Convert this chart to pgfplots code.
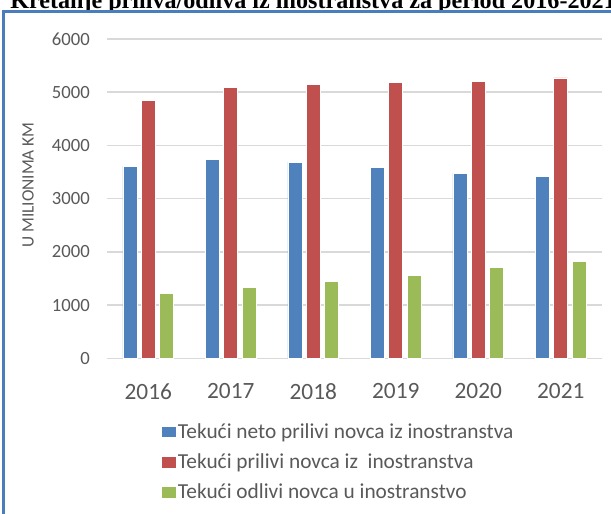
\documentclass[border=0pt]{standalone}
\usepackage{pgfplots}
\pgfplotsset{compat=1.18}
\usepackage{pgfplotstable}
\usepackage{fontspec}
\setmainfont{Carlito}
\newfontfamily\titlefont{Liberation Serif}
\definecolor{cblue}{HTML}{4F81BD}
\definecolor{cred}{HTML}{C0504D}
\definecolor{cgreen}{HTML}{9BBB59}
\definecolor{cgrid}{HTML}{D9D9D9}
\definecolor{ctext}{HTML}{595959}
\definecolor{cframe}{HTML}{4A7EBB}
\pgfplotstableread{
x a b c
0 3608 4846 1212
1 3739 5090 1325
2 3683 5146 1445
3 3589 5178 1563
4 3471 5203 1713
5 3415 5265 1826
}\data
\begin{document}
\begin{tikzpicture}[x=0.75pt,y=0.75pt]
\useasboundingbox (0,0) rectangle (611,514);
\clip (0,0) rectangle (611,514);
\node[anchor=base west, inner sep=0pt, font=\titlefont\bfseries\fontsize{18.1}{21}\selectfont] at (10,505) {Kretanje priliva/odliva iz inostranstva za period 2016-2021};
\fill[white] (0,-10) rectangle (620,504);
\begin{axis}[
  at={(80.25pt,116.775pt)}, anchor=south west, scale only axis,
  width=371.25pt, height=239.6pt,
  ybar=3.3pt, bar width=10.5pt,
  xmin=-0.5, xmax=5.5, ymin=0, ymax=6000,
  xtick={0,1,2,3,4,5}, xticklabels={2016,2017,2018,2019,2020,2021},
  ytick={0,1000,2000,3000,4000,5000,6000},
  yticklabels={0,1000,2000,3000,4000,5000,6000},
  axis line style={draw=none}, major tick length=0pt,
  ymajorgrids, grid style={cgrid, line width=1.1pt},
  xticklabel style={font=\fontsize{17.5}{21}\selectfont, text=ctext, anchor=north, inner sep=0pt, yshift=-18.9pt},
  yticklabel style={font=\fontsize{14}{16.8}\selectfont, text=ctext, anchor=east, inner sep=0pt, xshift=-12.75pt},
  ylabel={U MILIONIMA KM},
  ylabel style={at={(axis description cs:-0.1596,0.5424)}, anchor=center, font=\fontsize{13}{15.6}\selectfont, text=ctext},
  legend cell align=left,
  legend style={at={(axis description cs:0.1105,-0.2003)}, anchor=north west,
    draw=none, fill=none, inner sep=0pt, outer sep=0pt,
    font=\fontsize{16}{19}\selectfont, text=ctext,
    row sep=6.7pt, column sep=1.5pt,
    nodes={inner sep=0pt, text height=12pt, text depth=4pt},
    cells={anchor=base west}},
  legend image code/.code={\fill[#1,draw=none] (0pt,0.75pt) rectangle (10.7pt,8.7pt);},
]
\addplot[fill=cblue, draw=white, line width=0.5pt] table[x=x,y=a]{\data};
\addlegendentry{Tekući neto prilivi novca iz inostranstva}
\addplot[fill=cred, draw=white, line width=0.5pt] table[x=x,y=b]{\data};
\addlegendentry{Tekući prilivi novca iz\ \ inostranstva}
\addplot[fill=cgreen, draw=white, line width=0.5pt] table[x=x,y=c]{\data};
\addlegendentry{Tekući odlivi novca u inostranstvo}
\end{axis}
\draw[cframe, line width=2.25pt] (3.5,-20) -- (3.5,502.5) -- (640,502.5);
\end{tikzpicture}
\end{document}
